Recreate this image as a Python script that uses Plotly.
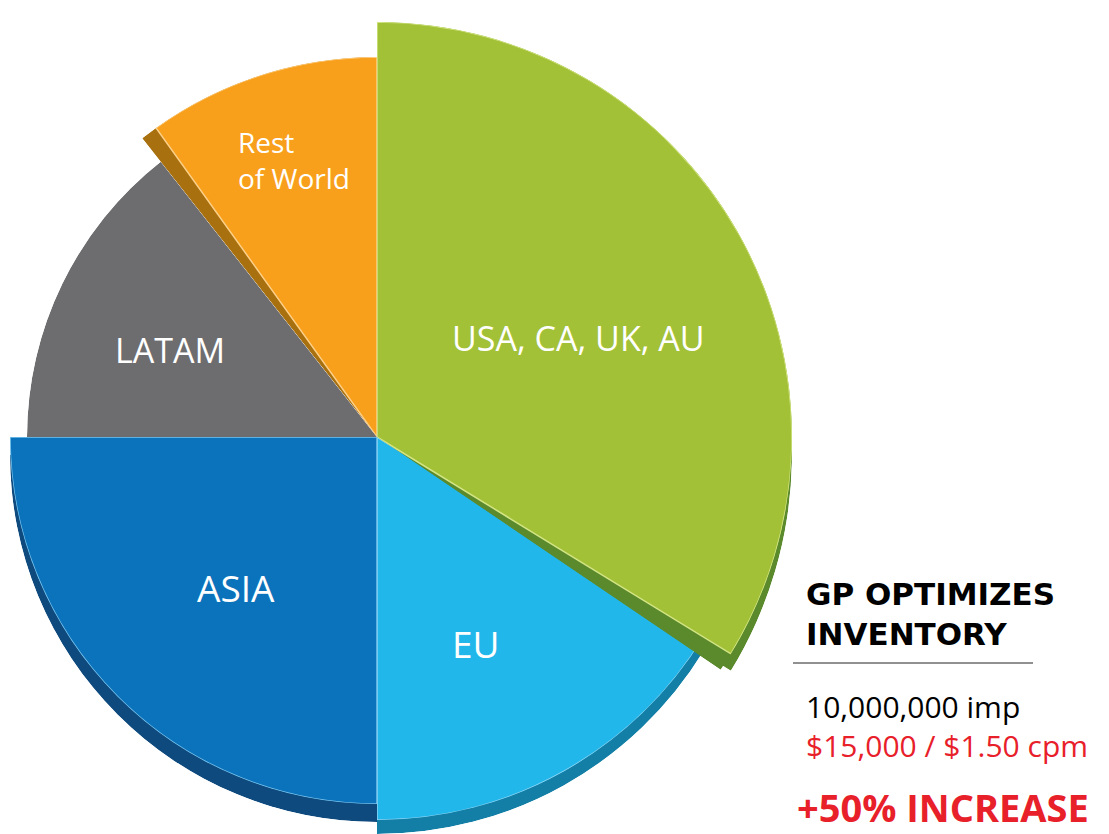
import numpy as np
import plotly.graph_objects as go

# ---- data ----
regions = ["USA, CA, UK, AU", "EU", "ASIA", "LATAM", "Rest of World"]
share_pct = [33.75, 16.25, 25.0, 14.4, 10.6]

headline = ["GP OPTIMIZES", "INVENTORY"]
impressions = "10,000,000 imp"
revenue = "$15,000 / $1.50 cpm"
increase = "+50% INCREASE"

# ---- style ----
W, H = 1109, 834
CX, CY = 377, 437                     # pie centre (px)
slice_r = [415, 383, 367, 350, 380]   # exploded radii (px units)
rim_shift = [17, 14, 18]              # 3D rim depth for green, EU, ASIA
face_col = ["#a3c137", "#22b7ea", "#0b73bc", "#6d6d6f", "#f8a01b"]
rim_col = ["#5b8a2c", "#137fa6", "#0f4a7e", "#4a4a4c", "#a8700e"]
edge_col = ["#d3e585", "#8fd5f5", "#7cc6ee", "#6d6d6f", "#fdd08a"]
SIDE_DEG = 2.6

deg = np.array(share_pct) / 100.0 * 360.0
start = np.concatenate([[0], np.cumsum(deg)[:-1]])

fig = go.Figure()
layout_polars = {}
count = [0]


def sector_bbox(s0, s1):
    arc = s1 - s0
    a0 = s0 % 360
    a1 = a0 + arc
    ax0, ay0 = np.cos(np.radians(a0)), np.sin(np.radians(a0))
    ax1, ay1 = np.cos(np.radians(a1)), np.sin(np.radians(a1))
    if (a0 <= 90 and a1 >= 90) or (a0 > 90 and a1 >= 450):
        y1 = 1
    elif ay0 <= 0 and ay1 <= 0:
        y1 = 0
    else:
        y1 = max(ay0, ay1)
    if (a0 <= 180 and a1 >= 180) or (a0 > 180 and a1 >= 540):
        x0 = -1
    elif ax0 >= 0 and ax1 >= 0:
        x0 = 0
    else:
        x0 = min(ax0, ax1)
    if (a0 <= 270 and a1 >= 270) or (a0 > 270 and a1 >= 630):
        y0 = -1
    elif ay0 >= 0 and ay1 >= 0:
        y0 = 0
    else:
        y0 = min(ay0, ay1)
    if (a0 <= 0 and a1 >= 0) or (a0 > 0 and a1 >= 360):
        x1 = 1
    elif ax0 <= 0 and ax1 <= 0:
        x1 = 0
    else:
        x1 = max(ax0, ax1)
    return x0, y0, x1, y1


def new_polar(cw0, cw1, R, cx, cy):
    """polar subplot showing clockwise-from-top span [cw0, cw1]"""
    count[0] += 1
    name = "polar" if count[0] == 1 else f"polar{count[0]}"
    sec = [90 - cw1, 90 - cw0]
    x0, y0, x1, y1 = sector_bbox(*sec)
    left, right = cx + R * x0, cx + R * x1
    top, bottom = cy - R * y1, cy - R * y0
    cl = lambda v: min(1.0, max(0.0, v))
    layout_polars[name] = dict(
        domain=dict(x=[cl(left / W), cl(right / W)],
                    y=[cl((H - bottom) / H), cl((H - top) / H)]),
        sector=sec, bgcolor="rgba(0,0,0,0)", barmode="overlay", hole=0,
        radialaxis=dict(range=[0, R], visible=False, showgrid=False),
        angularaxis=dict(rotation=90, direction="clockwise", visible=False,
                         showgrid=False, thetaunit="degrees"),
    )
    return name


def bar(sub, i, col, a0, a1, line=None):
    fig.add_trace(go.Barpolar(
        r=[slice_r[i]], theta=[(a0 + a1) / 2], width=[a1 - a0],
        marker=dict(color=col, line=line or dict(width=0)),
        subplot=sub, hoverinfo="skip", showlegend=False))


# 3D rims (shifted down), drawn first
for k in [0, 1, 2]:
    p = new_polar(start[k], start[k] + deg[k], slice_r[k], CX, CY + rim_shift[k])
    bar(p, k, rim_col[k], start[k], start[k] + deg[k])

# faces
for i in [3, 2, 1]:
    p = new_polar(start[i], start[i] + deg[i], slice_r[i], CX, CY)
    bar(p, i, face_col[i], start[i], start[i] + deg[i],
        dict(width=1.5, color=edge_col[i]) if i in (1, 2) else None)
# green: side then face
p = new_polar(start[0], start[0] + deg[0] + SIDE_DEG, slice_r[0], CX, CY)
bar(p, 0, rim_col[0], start[0], start[0] + deg[0] + SIDE_DEG)
bar(p, 0, face_col[0], start[0], start[0] + deg[0],
    dict(width=1.5, color=edge_col[0]))
# rest of world: side then face
p = new_polar(start[4], start[4] + deg[4], slice_r[4], CX, CY)
bar(p, 4, rim_col[4], start[4], start[4] + deg[4])
bar(p, 4, face_col[4], start[4] + SIDE_DEG, start[4] + deg[4],
    dict(width=1.5, color=edge_col[4]))

# ---- labels ----
label_font = "Open Sans, sans-serif"
label_pos = [(578, 338, 34), (476, 643, 37), (236, 587, 37), (170, 350, 34)]
ann = []
for i, (x, y, s) in enumerate(label_pos):
    ann.append(dict(x=x / W, y=1 - y / H, xref="paper", yref="paper",
                    text=regions[i], showarrow=False, xanchor="center",
                    yanchor="middle",
                    font=dict(family=label_font, size=s, color="white")))
ann.append(dict(x=236 / W, y=1 - 160 / H, xref="paper", yref="paper",
                text="Rest<br>of World", showarrow=False, xanchor="left",
                yanchor="middle", align="left",
                font=dict(family=label_font, size=28, color="white")))

ann.append(dict(x=804 / W, y=1 - 614 / H, xref="paper", yref="paper",
                text="<br>".join(headline), showarrow=False, xanchor="left",
                yanchor="middle", align="left",
                font=dict(family="DejaVu Sans", size=31, color="black",
                          weight=700)))
ann.append(dict(x=804 / W, y=1 - 706 / H, xref="paper", yref="paper",
                text=impressions, showarrow=False, xanchor="left",
                yanchor="middle",
                font=dict(family="Open Sans", size=30, color="black")))
ann.append(dict(x=804 / W, y=1 - 745 / H, xref="paper", yref="paper",
                text=revenue, showarrow=False, xanchor="left",
                yanchor="middle",
                font=dict(family="Open Sans", size=30, color="#e8202a")))
ann.append(dict(x=795 / W, y=1 - 807 / H, xref="paper", yref="paper",
                text=increase, showarrow=False, xanchor="left",
                yanchor="middle",
                font=dict(family="Open Sans", size=38, color="#e8202a",
                          weight=700)))

fig.update_layout(
    width=W, height=H, margin=dict(l=0, r=0, t=0, b=0),
    paper_bgcolor="white", plot_bgcolor="white",
    annotations=ann,
    shapes=[dict(type="line", xref="paper", yref="paper",
                 x0=793 / W, x1=1033 / W, y0=1 - 663 / H, y1=1 - 663 / H,
                 line=dict(color="#222", width=1))],
    showlegend=False,
    **layout_polars,
)

fig.write_html("out.html")
